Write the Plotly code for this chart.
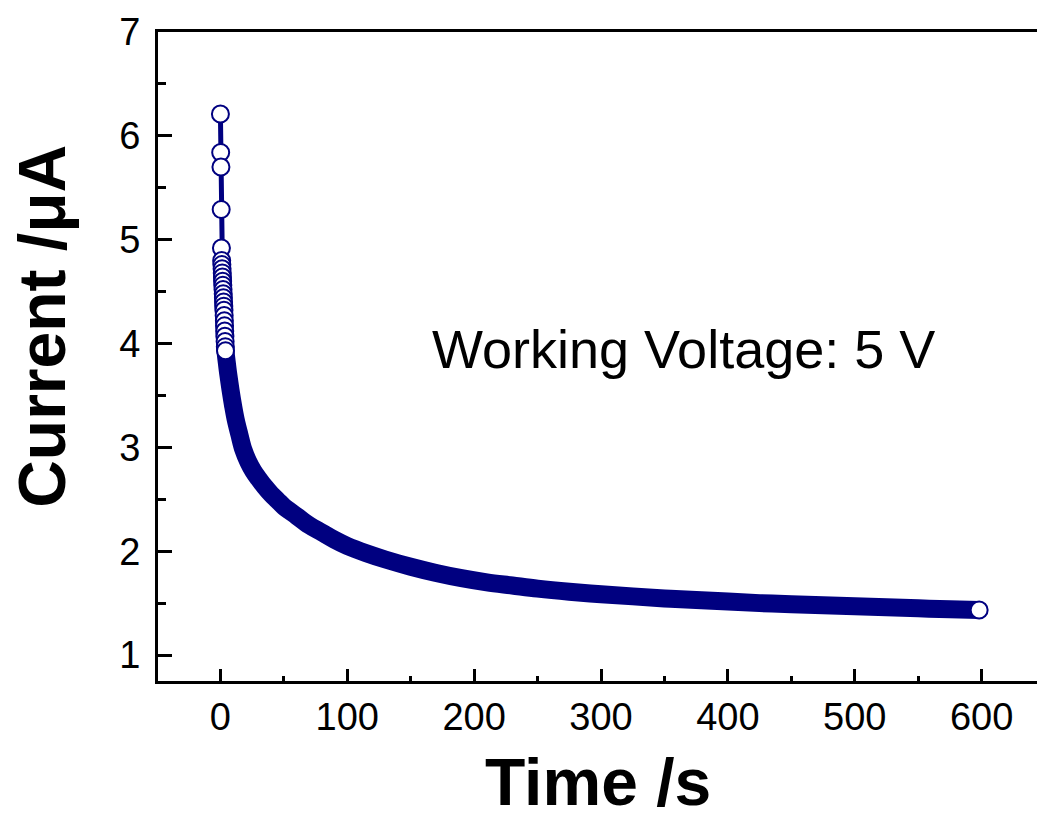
import plotly.graph_objects as go

# Early (resolved) points: sharp initial drop and stacked circles near t = 0
early_time_s = [0, 0.2, 0.4, 0.6, 0.8,
                1.0, 1.15, 1.3, 1.45, 1.6, 1.75, 1.9, 2.05, 2.2, 2.35, 2.5,
                2.65, 2.8, 2.95, 3.1, 3.25, 3.4, 3.55, 3.7, 3.85, 4.0]
early_current_uA = [6.21, 5.84, 5.70, 5.29, 4.92,
                    4.80, 4.76, 4.72, 4.68, 4.64, 4.60, 4.56, 4.52, 4.48, 4.44, 4.40,
                    4.36, 4.32, 4.27, 4.22, 4.17, 4.12, 4.07, 4.02, 3.97, 3.93]

# Dense decay (appears as a solid band of overlapping markers)
band_time_s = [1.0, 2.0, 3.0, 4.0, 5, 6, 8, 10, 12, 15, 18, 22, 26, 30, 35, 40, 45, 50,
               60, 70, 80, 90, 100, 115, 130, 150, 170, 190, 210, 230, 250,
               275, 300, 325, 350, 375, 400, 425, 450, 475, 500, 525, 550, 575, 598]
band_current_uA = [4.80, 4.52, 4.22, 3.93, 3.82, 3.72, 3.55, 3.40, 3.27, 3.12, 2.98, 2.86,
                   2.77, 2.70, 2.62, 2.55, 2.49, 2.43, 2.34, 2.25, 2.18, 2.11, 2.05,
                   1.98, 1.92, 1.85, 1.79, 1.74, 1.70, 1.67, 1.64, 1.61, 1.585, 1.565,
                   1.545, 1.53, 1.515, 1.50, 1.49, 1.48, 1.47, 1.46, 1.45, 1.44, 1.434]

# Last recorded point
end_time_s = [598]
end_current_uA = [1.434]

x_tick_vals = [0, 100, 200, 300, 400, 500, 600]
x_tick_text = ["0", "100", "200", "300", "400", "500", "600"]
y_tick_vals = [1, 2, 3, 4, 5, 6, 7]
y_tick_text = ["1", "2", "3", "4", "5", "6", "7"]

NAVY = "#000080"
FONT = "Liberation Sans, Arial, sans-serif"

fig = go.Figure()

fig.add_trace(go.Scatter(
    x=band_time_s, y=band_current_uA, mode="lines",
    line=dict(color=NAVY, width=18, shape="spline"),
    hoverinfo="skip", showlegend=False))

fig.add_trace(go.Scatter(
    x=early_time_s, y=early_current_uA, mode="lines+markers",
    line=dict(color=NAVY, width=5),
    marker=dict(symbol="circle", size=17, color="white",
                line=dict(color=NAVY, width=2)),
    showlegend=False))

fig.add_trace(go.Scatter(
    x=end_time_s, y=end_current_uA, mode="markers",
    marker=dict(symbol="circle", size=17, color="white",
                line=dict(color=NAVY, width=2)),
    showlegend=False))

fig.add_annotation(
    x=365, y=3.95, xref="x", yref="y", text="Working Voltage: 5 V",
    showarrow=False, xanchor="center", yanchor="middle",
    font=dict(family=FONT, size=54, color="black"))

fig.add_annotation(
    x=0.5009, y=-0.1555, xref="paper", yref="paper", text="<b>Time /s</b>",
    showarrow=False, xanchor="center", yanchor="middle",
    font=dict(family=FONT, size=66, color="black"))

fig.add_annotation(
    x=-0.1313, y=0.5466, xref="paper", yref="paper", text="<b>Current /μA</b>",
    showarrow=False, xanchor="center", yanchor="middle", textangle=-90,
    font=dict(family=FONT, size=66, color="black"))

fig.update_layout(
    width=1037, height=818,
    margin=dict(l=157.5, r=0, t=31.5, b=137, pad=0),
    paper_bgcolor="white", plot_bgcolor="white",
    font=dict(family=FONT, color="black"),
    showlegend=False,
)

fig.update_xaxes(
    range=[-49.2, 643.6], showgrid=False, zeroline=False,
    showline=True, linecolor="black", linewidth=3, mirror=True,
    ticks="inside", ticklen=12, tickwidth=3, tickcolor="black",
    tickvals=x_tick_vals, ticktext=x_tick_text,
    tickfont=dict(family=FONT, size=38, color="black"),
    ticklabelstandoff=0,
    minor=dict(dtick=50, tick0=0, ticks="inside", ticklen=5, tickwidth=3,
               tickcolor="black", showgrid=False),
)

fig.update_yaxes(
    range=[0.75, 7.0], showgrid=False, zeroline=False,
    showline=True, linecolor="black", linewidth=3, mirror=False,
    ticks="inside", ticklen=14, tickwidth=3, tickcolor="black",
    tickvals=y_tick_vals, ticktext=y_tick_text,
    tickfont=dict(family=FONT, size=38, color="black"),
    ticklabelstandoff=7,
    minor=dict(dtick=0.5, tick0=0, ticks="inside", ticklen=8, tickwidth=3,
               tickcolor="black", showgrid=False),
)

fig.write_html("out.html")
